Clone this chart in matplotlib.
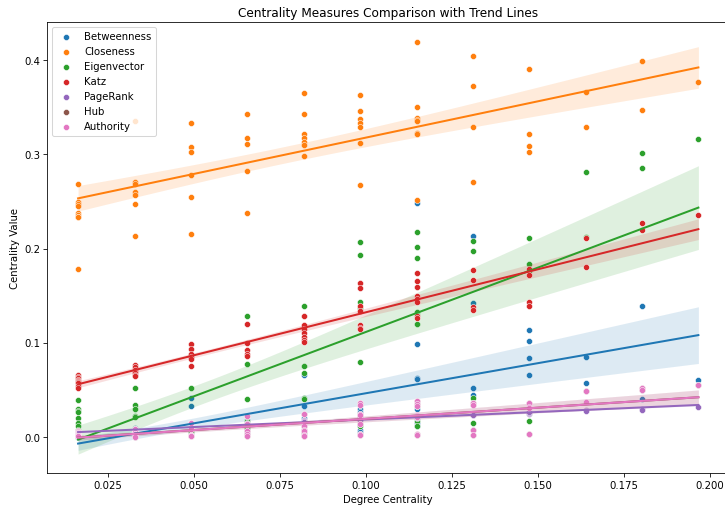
import numpy as np
import matplotlib.pyplot as plt

# degree centrality of each column of nodes (degree / (n - 1))
deg_cent = [0.0164, 0.0328, 0.0492, 0.0656, 0.0820, 0.0984,
            0.1148, 0.1311, 0.1475, 0.1639, 0.1803, 0.1967]

# one inner list per degree column, one value per node
betweenness = [
    [0.0, 0.0, 0.0, 0.0, 0.0, 0.0, 0.0, 0.0, 0.0],
    [0.010, 0.008, 0.005, 0.003, 0.002, 0.001, 0.0],
    [0.042, 0.033, 0.012, 0.008, 0.004, 0.002],
    [0.018, 0.012, 0.009, 0.006, 0.003],
    [0.066, 0.042, 0.033, 0.020, 0.012, 0.008, 0.004],
    [0.030, 0.027, 0.022, 0.018, 0.013, 0.008, 0.005],
    [0.248, 0.099, 0.063, 0.062, 0.030, 0.020, 0.015, 0.012],
    [0.213, 0.142, 0.052, 0.045],
    [0.114, 0.102, 0.084, 0.066],
    [0.085, 0.057],
    [0.139, 0.041],
    [0.061],
]
closeness = [
    [0.269, 0.249, 0.247, 0.245, 0.238, 0.236, 0.233, 0.233, 0.178],
    [0.335, 0.271, 0.268, 0.260, 0.257, 0.247, 0.213],
    [0.333, 0.308, 0.302, 0.278, 0.255, 0.216],
    [0.343, 0.317, 0.311, 0.282, 0.238],
    [0.365, 0.343, 0.322, 0.317, 0.313, 0.310, 0.298],
    [0.363, 0.346, 0.338, 0.333, 0.329, 0.312, 0.267],
    [0.419, 0.350, 0.339, 0.336, 0.335, 0.323, 0.322, 0.252],
    [0.404, 0.372, 0.329, 0.271],
    [0.391, 0.322, 0.309, 0.302],
    [0.366, 0.329],
    [0.399, 0.347],
    [0.377],
]
eigenvector = [
    [0.039, 0.030, 0.028, 0.027, 0.020, 0.015, 0.012, 0.008, 0.005],
    [0.052, 0.034, 0.030, 0.022, 0.021, 0.008, 0.004],
    [0.087, 0.085, 0.052, 0.015, 0.010, 0.005],
    [0.129, 0.078, 0.040, 0.017, 0.010],
    [0.139, 0.075, 0.068, 0.042, 0.040, 0.012, 0.005],
    [0.207, 0.193, 0.143, 0.137, 0.080, 0.020, 0.012],
    [0.218, 0.202, 0.190, 0.133, 0.130, 0.120, 0.017, 0.012],
    [0.208, 0.197, 0.042, 0.015],
    [0.211, 0.184, 0.176, 0.017],
    [0.281, 0.212],
    [0.301, 0.285],
    [0.316],
]
katz = [
    [0.066, 0.064, 0.063, 0.061, 0.060, 0.058, 0.057, 0.054, 0.052],
    [0.077, 0.074, 0.071, 0.069, 0.068, 0.066, 0.065],
    [0.099, 0.094, 0.088, 0.085, 0.083, 0.076],
    [0.120, 0.100, 0.092, 0.088, 0.086],
    [0.128, 0.119, 0.115, 0.110, 0.106, 0.103, 0.101],
    [0.163, 0.158, 0.139, 0.134, 0.119, 0.116, 0.115],
    [0.174, 0.166, 0.159, 0.150, 0.147, 0.143, 0.129, 0.126],
    [0.177, 0.167, 0.138, 0.135],
    [0.178, 0.172, 0.143, 0.139],
    [0.211, 0.181],
    [0.227, 0.220],
    [0.236],
]
pagerank = [
    [0.005, 0.004, 0.004, 0.005, 0.004, 0.005, 0.004, 0.004, 0.005],
    [0.008, 0.007, 0.008, 0.008, 0.007, 0.009, 0.008],
    [0.011, 0.010, 0.011, 0.012, 0.010, 0.011],
    [0.014, 0.013, 0.014, 0.015, 0.013],
    [0.016, 0.017, 0.018, 0.015, 0.016, 0.017, 0.016],
    [0.019, 0.020, 0.019, 0.018, 0.020, 0.019, 0.018],
    [0.022, 0.023, 0.021, 0.022, 0.023, 0.021, 0.022, 0.020],
    [0.025, 0.024, 0.023, 0.024],
    [0.026, 0.025, 0.026, 0.027],
    [0.029, 0.028],
    [0.030, 0.029],
    [0.032],
]
authority = [
    [0.0068, 0.0052, 0.0049, 0.0047, 0.0035, 0.0026, 0.0021, 0.0014, 0.0009],
    [0.0090, 0.0059, 0.0052, 0.0038, 0.0037, 0.0014, 0.0007],
    [0.0151, 0.0148, 0.0090, 0.0026, 0.0017, 0.0009],
    [0.0224, 0.0136, 0.0070, 0.0030, 0.0017],
    [0.0242, 0.0130, 0.0118, 0.0073, 0.0070, 0.0021, 0.0009],
    [0.0360, 0.0336, 0.0249, 0.0238, 0.0139, 0.0035, 0.0021],
    [0.0379, 0.0351, 0.0330, 0.0231, 0.0226, 0.0209, 0.0030, 0.0021],
    [0.0362, 0.0343, 0.0073, 0.0026],
    [0.0367, 0.0320, 0.0306, 0.0030],
    [0.0489, 0.0369],
    [0.0523, 0.0496],
    [0.0550],
]
# undirected graph: hub and authority scores are identical
hub = authority

measures = [
    ("Betweenness", betweenness),
    ("Closeness", closeness),
    ("Eigenvector", eigenvector),
    ("Katz", katz),
    ("PageRank", pagerank),
    ("Hub", hub),
    ("Authority", authority),
]

fig, ax = plt.subplots(figsize=(10, 7), dpi=72.5)
fig.subplots_adjust(left=0.065, right=1.006, bottom=0.067, top=0.955)

for i, (name, cols) in enumerate(measures):
    color = f"C{i}"
    x = np.concatenate([[d] * len(v) for d, v in zip(deg_cent, cols)])
    y = np.concatenate(cols)
    ax.scatter(x, y, s=36, color=color, edgecolor="white", linewidth=0.5,
               label=name, zorder=1)

    # OLS trend line with a 95% band (robust / sandwich standard errors)
    X = np.column_stack([np.ones_like(x), x])
    beta = np.linalg.lstsq(X, y, rcond=None)[0]
    resid = y - X @ beta
    bread = np.linalg.inv(X.T @ X)
    cov = bread @ (X.T * resid**2) @ X @ bread
    grid = np.linspace(x.min(), x.max(), 100)
    G = np.column_stack([np.ones_like(grid), grid])
    fit = G @ beta
    se = np.sqrt(np.einsum("ij,jk,ik->i", G, cov, G))
    ax.fill_between(grid, fit - 1.96 * se, fit + 1.96 * se, color=color,
                    alpha=0.15, linewidth=0, zorder=1)
    ax.plot(grid, fit, color=color, linewidth=2, zorder=2)

ax.set_xlim(0.0074, 0.2057)
ax.set_ylim(-0.038, 0.440)
ax.set_title("Centrality Measures Comparison with Trend Lines")
ax.set_xlabel("Degree Centrality")
ax.set_ylabel("Centrality Value")
ax.legend(loc="upper left")

plt.savefig("out.png", dpi=72.5)
